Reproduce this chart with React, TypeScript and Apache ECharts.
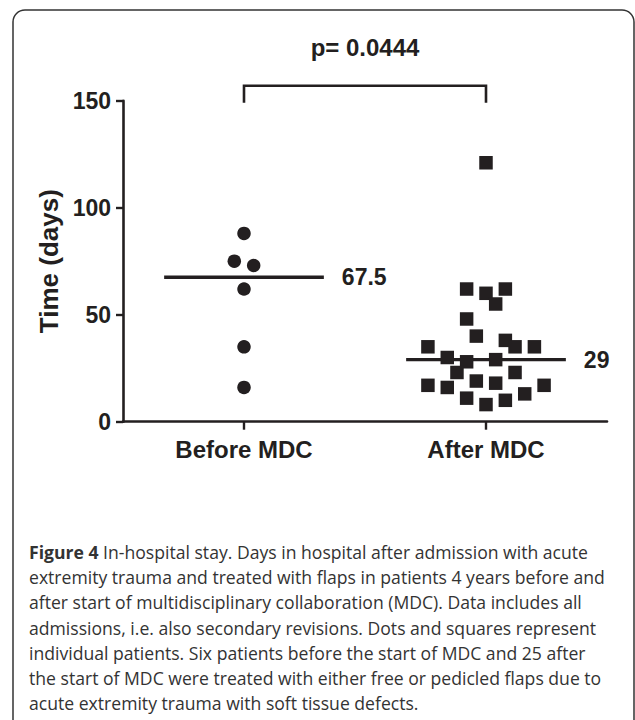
import React, { useEffect, useRef } from "react";
import * as echarts from "echarts";

const categories = ["Before MDC", "After MDC"];
const beforeValues = [88, 75, 73, 62, 35, 16];
const beforeJitter = [0, -0.04, 0.04, 0, 0, 0];
const afterValues = [121, 62, 60, 62, 55, 48, 40, 35, 38, 35, 35, 30, 28, 29, 23, 23, 17, 16, 19, 18, 17, 11, 8, 10, 13];
const afterJitter = [0, -0.08, 0, 0.08, 0.04, -0.08, -0.04, -0.24, 0.08, 0.12, 0.2, -0.16, -0.08, 0.04, -0.12, 0.12, -0.24, -0.16, -0.04, 0.04, 0.24, -0.08, 0, 0.08, 0.16];
const medians = [67.5, 29];
const medianLabels = ["67.5", "29"];
const yTicks = [0, 50, 100, 150];
const yAxisName = "Time (days)";
const pValueText = "p= 0.0444";
const bracketY = [149, 157];
const captionTitle = "Figure 4";
const captionLines = [
  " In-hospital stay. Days in hospital after admission with acute",
  "extremity trauma and treated with flaps in patients 4 years before and",
  "after start of multidisciplinary collaboration (MDC). Data includes all",
  "admissions, i.e. also secondary revisions. Dots and squares represent",
  "individual patients. Six patients before the start of MDC and 25 after",
  "the start of MDC were treated with either free or pedicled flaps due to",
  "acute extremity trauma with soft tissue defects.",
];

const INK = "#231f20";
const FONT = "Liberation Sans, Arial, Helvetica, sans-serif";
const CAPTION_FONT = "Open Sans, Noto Sans, sans-serif";

export default function App() {
  const ref = useRef<HTMLDivElement>(null);
  useEffect(() => {
    if (!ref.current) return;
    const chart = echarts.init(ref.current, undefined, { renderer: "svg" });
    const halfWidth = 0.33;
    const medianSeries = medians.map((m, i) => ({
      type: "line",
      xAxisIndex: 1,
      yAxisIndex: 0,
      symbol: "circle",
      symbolSize: 0,
      showSymbol: true,
      silent: true,
      lineStyle: { color: INK, width: 3.3, opacity: 1 },
      itemStyle: { color: INK },
      data: [
        [i - halfWidth, m],
        {
          value: [i + halfWidth, m],
          label: {
            show: true,
            position: "right",
            distance: 18,
            formatter: medianLabels[i],
            color: INK,
            fontFamily: FONT,
            fontWeight: "bold",
            fontSize: 23,
          },
        },
      ],
      z: 3,
    }));
    const option: any = {
      animation: false,
      grid: { left: 123, right: 28, top: 100.7, bottom: 298.3, containLabel: false },
      xAxis: [
        {
          type: "category",
          data: categories,
          boundaryGap: true,
          axisLine: { show: true, onZero: false, lineStyle: { color: INK, width: 2.6 } },
          axisTick: { show: true, alignWithLabel: true, length: 8, lineStyle: { color: INK, width: 2.4 } },
          axisLabel: { color: INK, fontFamily: FONT, fontWeight: "bold", fontSize: 24, margin: 16 },
          splitLine: { show: false },
        },
        {
          type: "value",
          min: -0.5,
          max: 1.5,
          show: false,
          axisLine: { onZero: false },
          splitLine: { show: false },
        },
      ],
      yAxis: [
        {
          type: "value",
          min: 0,
          max: 150,
          interval: 50,
          name: yAxisName,
          nameLocation: "middle",
          nameGap: 58,
          nameTextStyle: { color: INK, fontFamily: FONT, fontWeight: "bold", fontSize: 26 },
          axisLine: { show: true, onZero: false, lineStyle: { color: INK, width: 2.6 } },
          axisTick: { show: true, length: 7, lineStyle: { color: INK, width: 2.4 } },
          axisLabel: {
            color: INK,
            fontFamily: FONT,
            fontWeight: "bold",
            fontSize: 23,
            margin: 12,
            formatter: (v: number) => (yTicks.includes(v) ? String(v) : ""),
          },
          splitLine: { show: false },
        },
      ],
      series: [
        {
          type: "scatter",
          xAxisIndex: 1,
          symbol: "circle",
          symbolSize: 13.5,
          itemStyle: { color: INK, opacity: 1 },
          data: beforeValues.map((v, i) => [0 + beforeJitter[i], v]),
          z: 4,
        },
        {
          type: "scatter",
          xAxisIndex: 1,
          symbol: "rect",
          symbolSize: 13.5,
          itemStyle: { color: INK, opacity: 1 },
          data: afterValues.map((v, i) => [1 + afterJitter[i], v]),
          z: 4,
        },
        ...medianSeries,
        {
          type: "line",
          xAxisIndex: 1,
          clip: false,
          symbol: "circle",
          symbolSize: 0,
          showSymbol: true,
          silent: true,
          lineStyle: { color: INK, width: 2.6, join: "miter" },
          itemStyle: { color: INK },
          data: [
            [0, bracketY[0]],
            [0, bracketY[1]],
            {
              value: [0.5, bracketY[1]],
              label: {
                show: true,
                position: "top",
                distance: 26,
                formatter: pValueText,
                color: INK,
                fontFamily: FONT,
                fontWeight: "bold",
                fontSize: 24,
              },
            },
            [1, bracketY[1]],
            [1, bracketY[0]],
          ],
        },
      ],
      graphic: [
        {
          type: "rect",
          shape: { x: 13, y: 10, width: 621, height: 760, r: 12 },
          style: { fill: "none", stroke: "#333", lineWidth: 1.5 },
          silent: true,
        },
        {
          type: "text",
          x: 29,
          y: 539,
          style: {
            text: "{b|" + captionTitle + "}" + captionLines.join("\n"),
            fill: "#333",
            fontFamily: CAPTION_FONT,
            fontSize: 17.6,
            lineHeight: 25.3,
            rich: {
              b: {
                fontFamily: CAPTION_FONT,
                fontWeight: "bold",
                fontSize: 17.6,
                lineHeight: 25.3,
                fill: "#333",
              },
            },
          },
          silent: true,
        },
      ],
    };
    chart.setOption(option);
    return () => chart.dispose();
  }, []);
  return (
    <div
      ref={ref}
      style={{ position: "fixed", left: 0, top: 0, width: 635, height: 720, background: "#fff" }}
    />
  );
}
